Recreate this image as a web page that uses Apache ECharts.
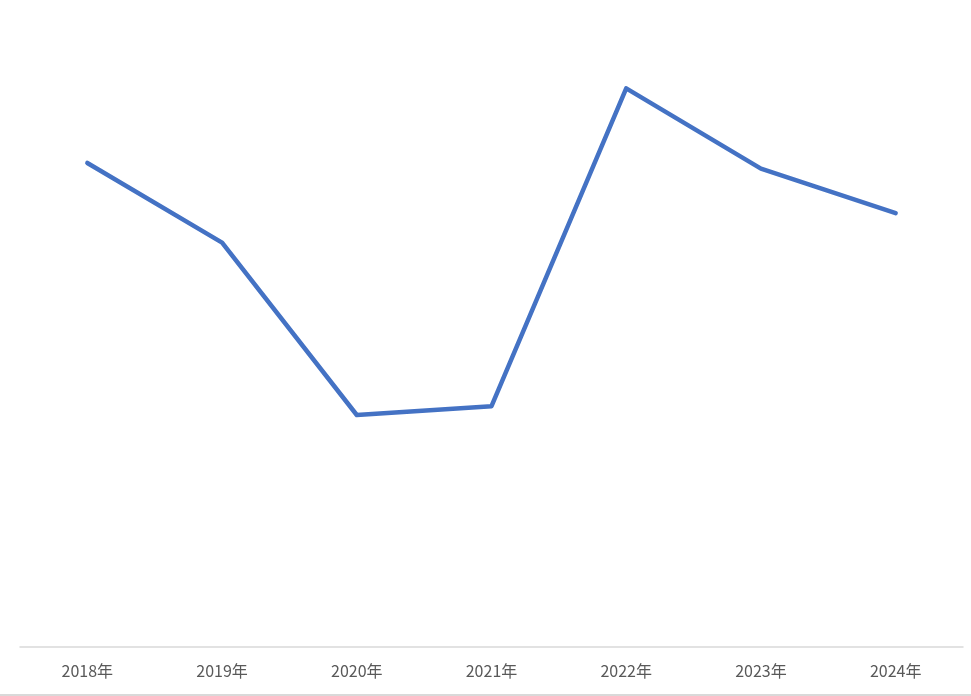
<!DOCTYPE html>
<html>
<head>
<meta charset="utf-8">
<style>html,body{margin:0;padding:0;background:#fff;}#c{width:971px;height:696px;}</style>
<script src="https://cdn.jsdelivr.net/npm/echarts@6/dist/echarts.min.js"></script>
</head>
<body>
<div id="c"></div>
<script>
const categories = ['2018年','2019年','2020年','2021年','2022年','2023年','2024年'];
const values = [77.2, 64.5, 37.0, 38.4, 89.1, 76.3, 69.2];

const chart = echarts.init(document.getElementById('c'), null, {renderer:'canvas'});
chart.setOption({
  backgroundColor: '#ffffff',
  animation: false,
  grid: {left: 20, right: 8, top: 20, bottom: 49, containLabel: false},
  xAxis: {
    type: 'category',
    data: categories,
    boundaryGap: true,
    axisLine: {show: true, lineStyle: {color: '#d9d9d9', width: 1.5}},
    axisTick: {show: false},
    axisLabel: {color: '#595959', fontSize: 16, margin: 16, fontFamily: '"Noto Sans CJK SC", "Noto Sans", sans-serif'}
  },
  yAxis: {
    type: 'value',
    min: 0, max: 100,
    show: false,
    splitLine: {show: false}
  },
  series: [{
    type: 'line',
    data: values,
    symbol: 'none',
    lineStyle: {color: '#4472C4', width: 4.5, cap: 'round', join: 'round'},
    itemStyle: {color: '#4472C4'}
  }],
  graphic: [{
    type: 'line',
    shape: {x1: 0, y1: 695, x2: 971, y2: 695},
    style: {stroke: '#d9d9d9', lineWidth: 2}
  }]
});
</script>
</body>
</html>
